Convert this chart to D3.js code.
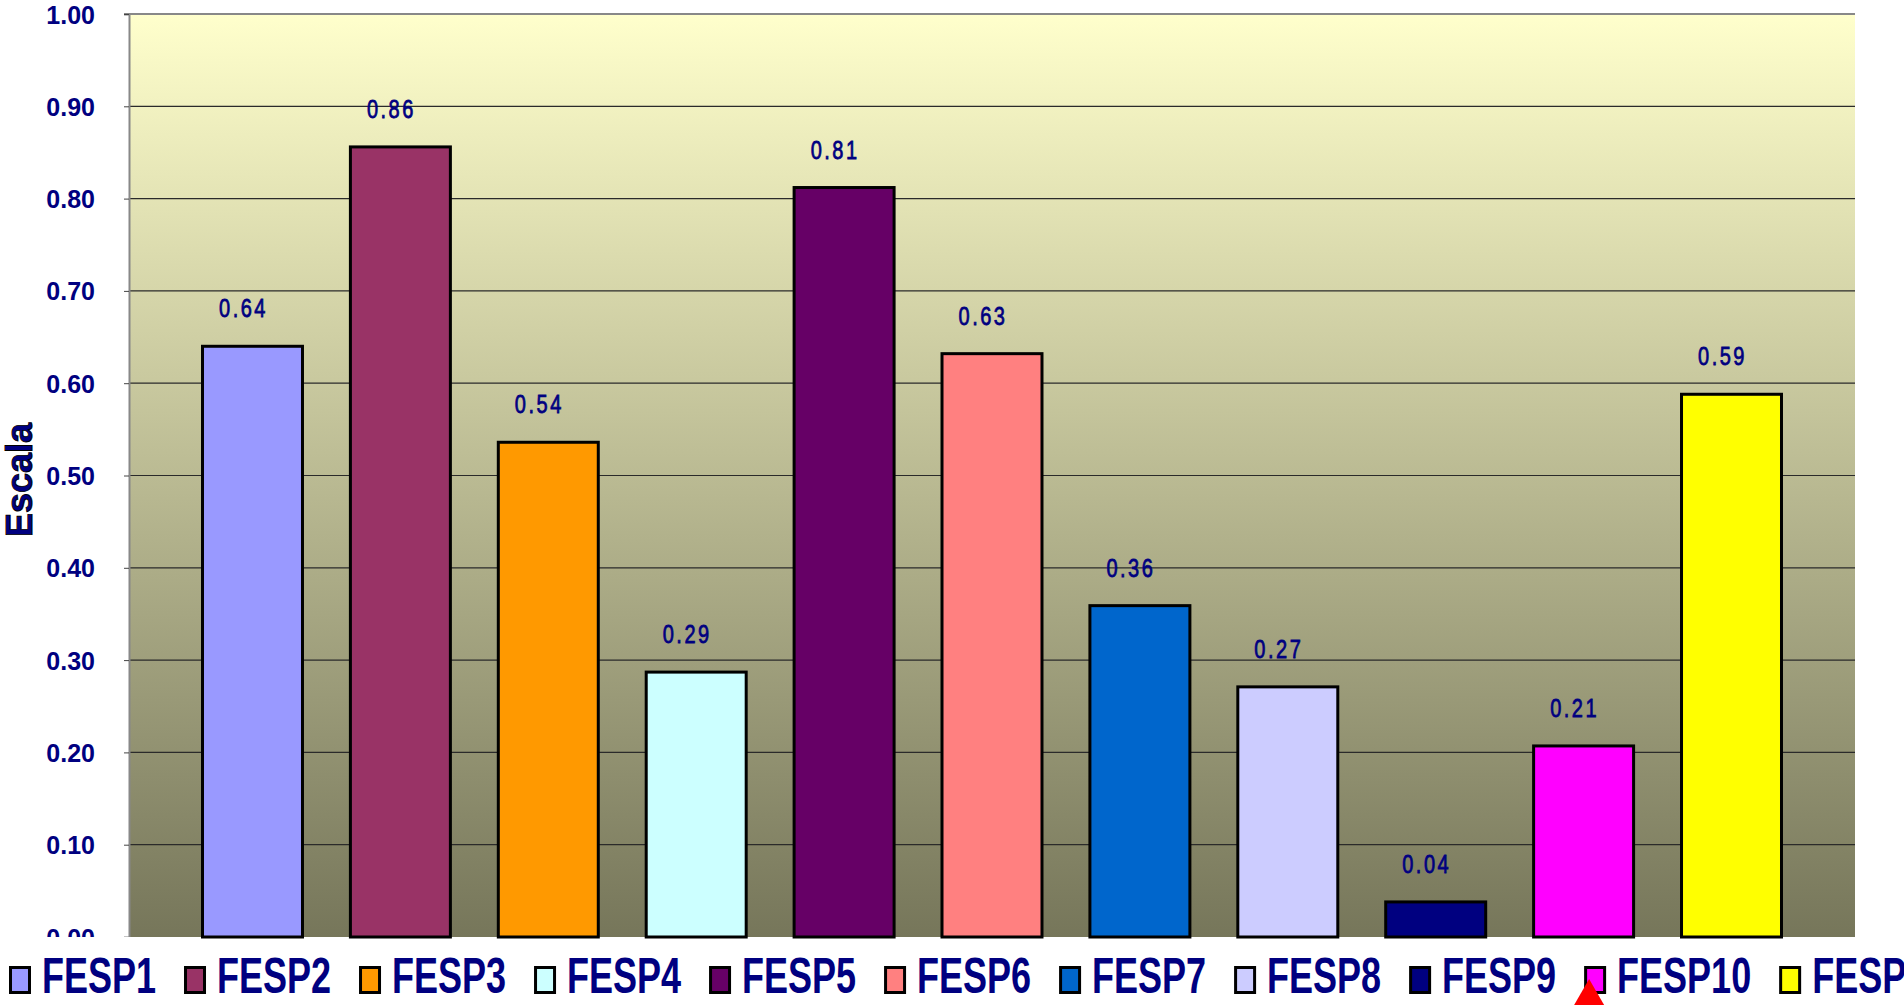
<!DOCTYPE html>
<html>
<head>
<meta charset="utf-8">
<script src="https://cdn.jsdelivr.net/npm/d3@7"></script>
<style>
  body { margin: 0; background: #fff; }
  text { font-family: "Liberation Sans", Arial, sans-serif; }
</style>
</head>
<body>
<div id="chart"></div>
<script>
// Data
var categories = ["FESP1", "FESP2", "FESP3", "FESP4", "FESP5", "FESP6", "FESP7", "FESP8", "FESP9", "FESP10", "FESP11"];
var values = [0.640, 0.856, 0.536, 0.287, 0.812, 0.632, 0.359, 0.271, 0.038, 0.207, 0.588];
var colors = ["#9999FF", "#993366", "#FF9900", "#CCFFFF", "#660066", "#FF8080", "#0066CC", "#CCCCFF", "#000080", "#FF00FF", "#FFFF00"];
var yTicks = [0, 0.1, 0.2, 0.3, 0.4, 0.5, 0.6, 0.7, 0.8, 0.9, 1.0];

// Draw Bar Chart
function drawBarChart() {

  var width = 1904, height = 1005;
  var plotLeft = 129, plotRight = 1855, plotTop = 14, plotBottom = 937;

  var svg = d3.select("#chart").append("svg")
      .attr("width", width)
      .attr("height", height);

  var defs = svg.append("defs");
  var grad = defs.append("linearGradient")
      .attr("id", "bg")
      .attr("x1", 0).attr("y1", 0).attr("x2", 0).attr("y2", 1);
  grad.append("stop").attr("offset", "0%").attr("stop-color", "#FFFFCC");
  grad.append("stop").attr("offset", "100%").attr("stop-color", "#76765A");

  // clip for the axis labels (in the axis group's own coordinates)
  defs.append("clipPath").attr("id", "tickclip")
    .append("rect")
      .attr("x", -plotLeft).attr("y", 0)
      .attr("width", plotLeft + 2).attr("height", plotBottom);

  var x = d3.scaleBand()
      .domain(categories)
      .range([plotLeft, plotRight])
      .paddingInner(0.324)
      .paddingOuter(0.497);

  var y = d3.scaleLinear()
      .domain([0, 1])
      .range([plotBottom, plotTop]);

  // plot area
  svg.append("rect")
      .attr("x", plotLeft).attr("y", plotTop)
      .attr("width", plotRight - plotLeft).attr("height", plotBottom - plotTop)
      .attr("fill", "url(#bg)");

  // gridlines
  svg.append("g")
    .selectAll("line")
    .data(yTicks.slice(1, -1))
    .enter().append("line")
      .attr("x1", plotLeft).attr("x2", plotRight)
      .attr("y1", function(d) { return y(d); })
      .attr("y2", function(d) { return y(d); })
      .attr("stroke", "#2a2a2a")
      .attr("stroke-width", 1.2);

  // top border
  svg.append("line")
      .attr("x1", plotLeft - 5).attr("x2", plotRight)
      .attr("y1", y(1)).attr("y2", y(1))
      .attr("stroke", "#888").attr("stroke-width", 2);

  // y axis
  var yAxis = d3.axisLeft(y)
      .tickValues(yTicks)
      .tickSize(5)
      .tickFormat(d3.format(".2f"));

  var ya = svg.append("g")
      .attr("transform", "translate(" + plotLeft + ",0)")
      .attr("clip-path", "url(#tickclip)")
      .call(yAxis);

  ya.select(".domain").attr("stroke", "#888").attr("stroke-width", 2);
  ya.selectAll(".tick line").attr("stroke", "#444");
  ya.selectAll(".tick text")
      .attr("x", -34)
      .attr("dy", "0.36em")
      .style("font-size", "25px")
      .style("font-weight", "bold")
      .attr("fill", "#000080");

  // y axis title
  svg.append("text")
      .attr("transform", "translate(32,480) rotate(-90)")
      .style("text-anchor", "middle")
      .style("font-size", "36px")
      .style("font-weight", "bold")
      .attr("fill", "#000080")
      .attr("stroke", "#000")
      .attr("stroke-width", 0.9)
      .text("Escala");

  // bars
  svg.selectAll(".bar")
      .data(categories)
    .enter().append("rect")
      .attr("class", "bar")
      .attr("x", function(d) { return x(d); })
      .attr("width", x.bandwidth())
      .attr("y", function(d, i) { return y(values[i]); })
      .attr("height", function(d, i) { return plotBottom - y(values[i]); })
      .attr("fill", function(d, i) { return colors[i]; })
      .attr("stroke", "#000")
      .attr("stroke-width", 3);

  // value labels
  svg.selectAll(".val")
      .data(categories)
    .enter().append("text")
      .attr("class", "val")
      .attr("transform", function(d, i) {
        return "translate(" + (x(d) + x.bandwidth() / 2 - 9) + "," + (y(values[i]) - 29) + ") scale(1,1.25)";
      })
      .style("text-anchor", "middle")
      .style("font-size", "20px")
      .style("letter-spacing", "2.5px")
      .attr("fill", "#000080")
      .attr("stroke", "#000080")
      .attr("stroke-width", 0.6)
      .text(function(d, i) { return values[i].toFixed(2); });

  // legend
  var legend = svg.append("g");
  var lx = 9;
  var markerX = 0;
  categories.forEach(function(c, i) {
    legend.append("rect")
        .attr("x", lx + 1.5).attr("y", 967.5)
        .attr("width", 19).attr("height", 25)
        .attr("fill", colors[i])
        .attr("stroke", "#000")
        .attr("stroke-width", 3);
    var t = legend.append("text")
        .attr("transform", "translate(" + (lx + 33) + ",993) scale(1,1.4)")
        .style("font-size", "36px")
        .style("font-weight", "bold")
        .attr("fill", "#000080")
        .text(c);
    if (i === 9) markerX = lx;
    lx += 22 + 11 + t.node().getComputedTextLength() + 28;
  });

  // red marker below FESP10 legend key
  svg.append("path")
      .attr("d", d3.symbol().type(d3.symbolTriangle).size(420))
      .attr("transform", "translate(" + (markerX + 5) + ",997)")
      .attr("fill", "#FF0000");
}

drawBarChart();
</script>
</body>
</html>
